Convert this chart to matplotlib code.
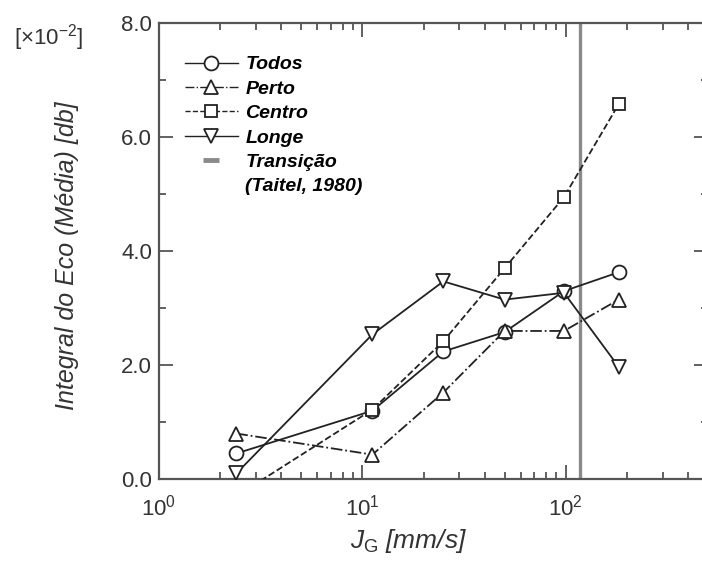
import matplotlib
matplotlib.use("Agg")
import matplotlib.pyplot as plt
from matplotlib.lines import Line2D
from matplotlib.ticker import MultipleLocator, LogLocator, NullFormatter

plt.rcParams['font.family'] = ['Liberation Sans', 'DejaVu Sans']
plt.rcParams['mathtext.fontset'] = 'custom'
plt.rcParams['mathtext.rm'] = 'Liberation Sans'
plt.rcParams['mathtext.it'] = 'Liberation Sans:italic'

# velocidade do gas J_G [mm/s]
jg = [2.4, 11.2, 25, 50, 98, 182]
# integral do eco (media), x10^-2 db
todos = [0.45, 1.2, 2.24, 2.58, 3.3, 3.63]
perto = [0.8, 0.43, 1.52, 2.6, 2.6, 3.15]
centro = [-0.3, 1.22, 2.42, 3.7, 4.95, 6.58]
longe = [0.1, 2.54, 3.47, 3.15, 3.27, 1.97]
transicao = 118  # Taitel, 1980

ink = '#222222'
grey = '#8a8a8a'

fig = plt.figure(figsize=(7.02, 5.67), dpi=100)
ax = fig.add_axes([0.2265, 0.155, 0.782, 0.804])

ax.axvline(transicao, color=grey, lw=2.4, zorder=1)

mk = dict(color=ink, lw=1.3, markerfacecolor='white', markeredgecolor=ink,
          markeredgewidth=1.3, zorder=3)
ax.plot(jg, todos, '-', marker='o', ms=10, **mk)
ax.plot(jg, perto, '-.', marker='^', ms=10, **mk)
ax.plot(jg, centro, '--', marker='s', ms=9, **mk)
ax.plot(jg, longe, '-', marker='v', ms=10, **mk)

ax.set_xscale('log')
ax.set_xlim(1, 500)
ax.set_ylim(0, 8)
ax.xaxis.set_major_locator(LogLocator(base=10, numticks=5))
ax.xaxis.set_minor_locator(LogLocator(base=10, subs=range(2, 10), numticks=20))
ax.xaxis.set_minor_formatter(NullFormatter())
ax.yaxis.set_major_locator(MultipleLocator(2))
ax.yaxis.set_minor_locator(MultipleLocator(1))
ax.set_yticklabels([f'{v:.1f}' for v in ax.get_yticks()])

ax.tick_params(which='both', direction='in', top=True, right=True,
               color='#555555', width=1.3, labelcolor='#333333', labelsize=16)
ax.tick_params(which='major', length=10, pad=5)
ax.tick_params(which='minor', length=5)
ax.tick_params(axis='x', which='major', pad=11)
for s in ax.spines.values():
    s.set_color('#555555')
    s.set_linewidth(1.6)

ax.set_ylabel('Integral do Eco (Média) [db]', fontsize=18, style='italic',
              color='#333333')
ax.yaxis.set_label_coords(-0.145, 0.49)
ax.set_xlabel(r'$J_{\mathrm{G}}$ [mm/s]', fontsize=19, style='italic',
              color='#333333')
ax.xaxis.set_label_coords(0.455, -0.105)

fig.text(0.02, 0.921, r'[$\times$10$^{\mathrm{-2}}$]', fontsize=16,
         color='#333333')

hs = dict(color=ink, lw=1.0, markerfacecolor='white', markeredgecolor=ink,
          markeredgewidth=1.3)
handles = [
    Line2D([], [], ls='-', marker='o', ms=10, **hs),
    Line2D([], [], ls='-.', marker='^', ms=10, **hs),
    Line2D([], [], ls='--', marker='s', ms=9, **hs),
    Line2D([], [], ls='-', marker='v', ms=10, **hs),
    Line2D([], [], ls='none', marker='_', ms=12, markeredgewidth=3.5,
           color=grey),
    Line2D([], [], ls='none'),
]
labels = ['Todos', 'Perto', 'Centro', 'Longe', 'Transição', '(Taitel, 1980)']
ax.legend(handles, labels, loc='upper left', bbox_to_anchor=(0.03, 0.95),
          frameon=False, numpoints=1, handlelength=2.7, handletextpad=0.4,
          labelspacing=0.35, borderpad=0,
          prop=dict(size=14, style='italic', weight='bold'))

fig.savefig('out.png', dpi=100)
